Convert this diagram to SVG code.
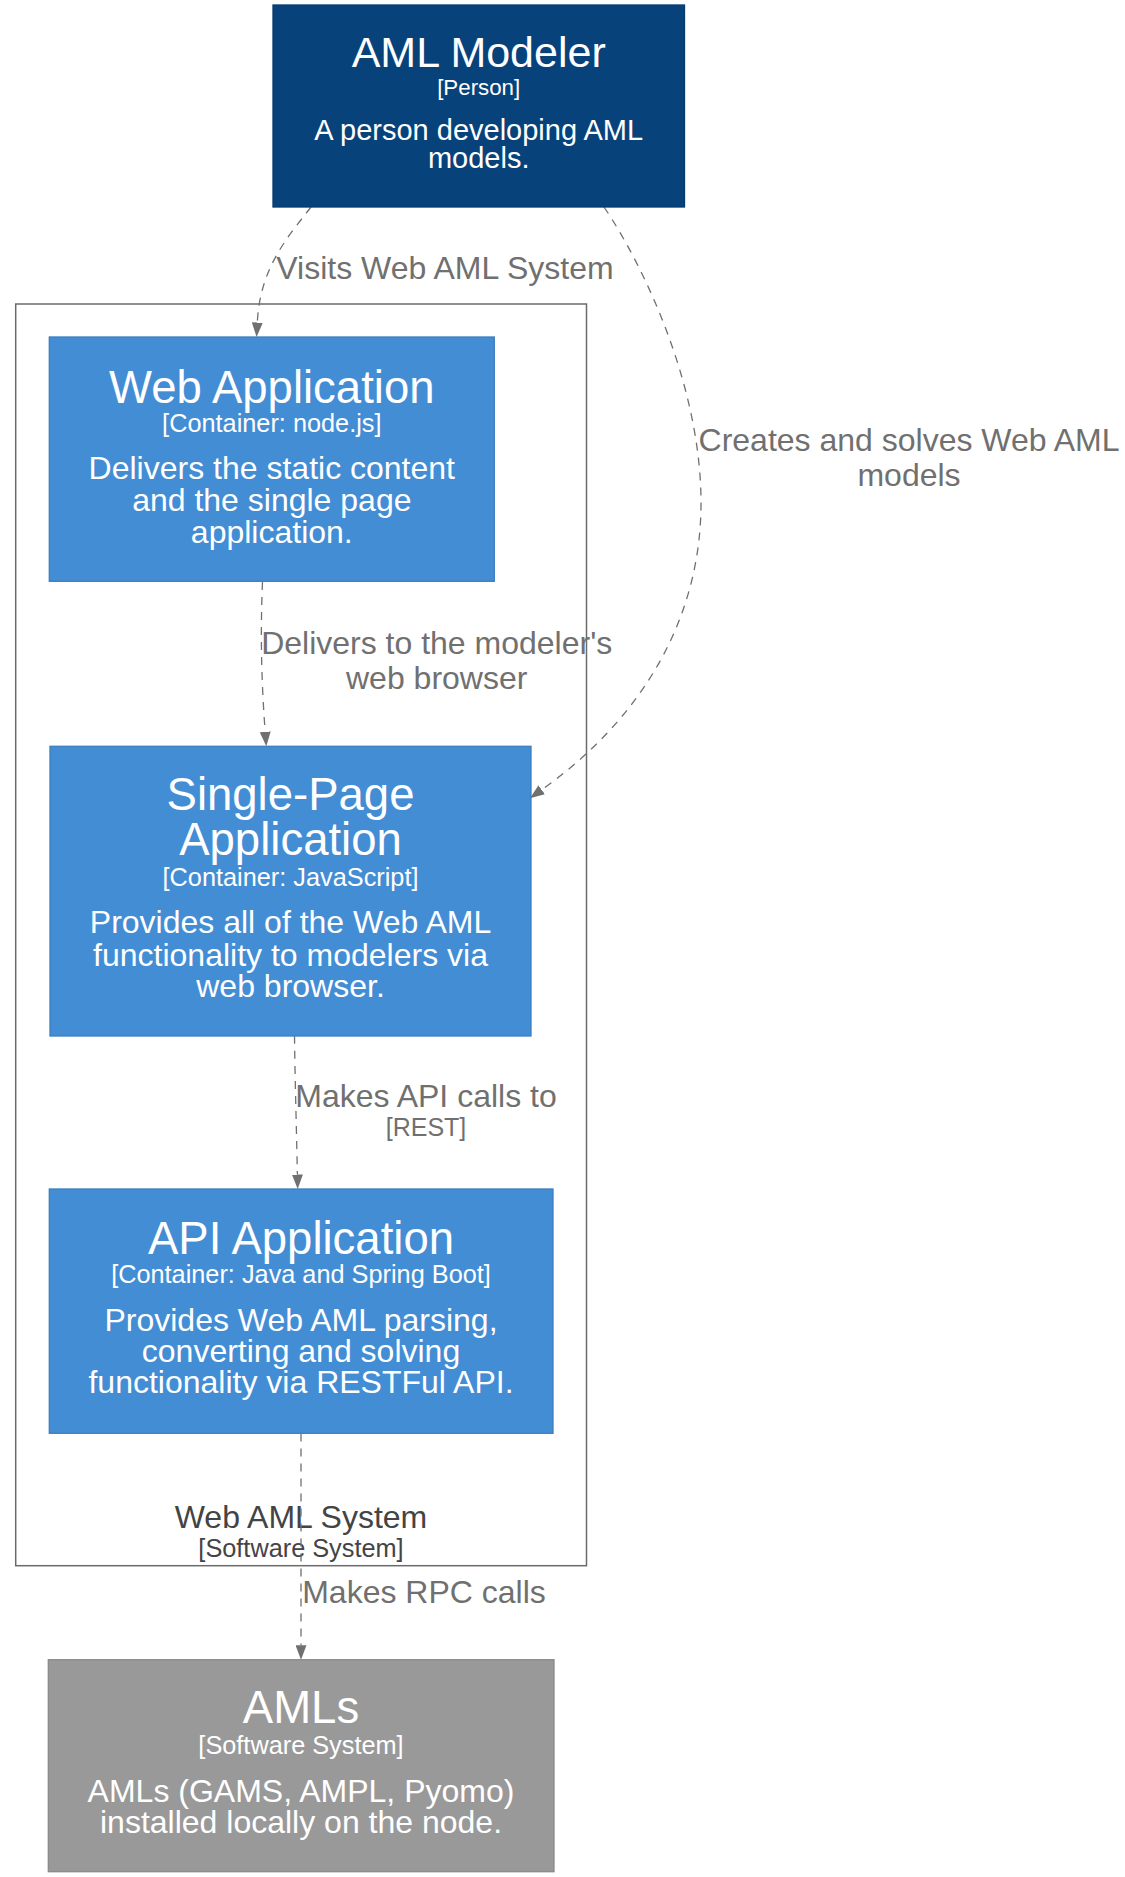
<svg xmlns="http://www.w3.org/2000/svg" width="1125" height="1877" viewBox="0 0 1125 1877">
<defs>
<style>
text{font-family:"Liberation Sans",Arial,Helvetica,sans-serif;text-anchor:middle}
.w{fill:#ffffff}
.edge{fill:none;stroke:#707070;stroke-width:1.3;stroke-dasharray:8,7;marker-end:url(#arr)}
.lbl{fill:#707070;font-size:32px}
.lbls{fill:#707070;font-size:25px}
.person{fill:#08427b;stroke:#073b6f;stroke-width:1.3}
.cont{fill:#438dd5;stroke:#3c7ebf;stroke-width:1.3}
.ext{fill:#999999;stroke:#8a8a8a;stroke-width:1.3}
.n{font-size:45.5px}.m{font-size:25.3px}.d{font-size:32px}
</style>
<marker id="arr" markerUnits="userSpaceOnUse" markerWidth="15" markerHeight="11" refX="0" refY="5.5" orient="auto">
<path d="M0,0 L14.5,5.5 L0,11 z" fill="#707070"/>
</marker>
</defs>
<rect width="1125" height="1877" fill="#ffffff"/>

<g id="boundary">
<rect x="15.7" y="304" width="570.8" height="1261.7" fill="none" stroke="#6b6b6b" stroke-width="1.5"/>
<text x="301" y="1528.3" style="fill:#444444;font-size:32px">Web AML System</text>
<text x="301" y="1556.7" style="fill:#444444;font-size:25.3px">[Software System]</text>
</g>

<g id="connectors">
<path class="edge" d="M311,207 C 287,238 260,268 257.3,322.5"/>
<text class="lbl" x="445" y="279.3">Visits Web AML System</text>
<path class="edge" d="M604,207 C 640,260 700,380 701,500 C 702,620 640,720 541.7,789.8"/>
<text class="lbl" x="909" y="451">Creates and solves Web AML</text>
<text class="lbl" x="909" y="485.5">models</text>
<path class="edge" d="M262.5,582 C 260,640 262,690 265.2,731.8"/>
<text class="lbl" x="436.7" y="654.3">Delivers to the modeler's</text>
<text class="lbl" x="436.7" y="689.3">web browser</text>
<path class="edge" d="M294.5,1036 C 295,1080 296.5,1130 297.4,1174.5"/>
<text class="lbl" x="426" y="1107.3">Makes API calls to</text>
<text class="lbls" x="426" y="1136">[REST]</text>
<path class="edge" d="M301,1433.5 L301,1645.2"/>
<text class="lbl" x="424" y="1603.3">Makes RPC calls</text>
</g>

<g id="aml-modeler">
<rect class="person" x="273" y="5" width="411.5" height="202"/>
<text class="w" x="478.7" y="66.7" style="font-size:43px">AML Modeler</text>
<text class="w" x="478.7" y="95" style="font-size:22.3px">[Person]</text>
<text class="w" x="478.7" y="140" style="font-size:29px">A person developing AML</text>
<text class="w" x="478.7" y="168.3" style="font-size:29px">models.</text>
</g>

<g id="web-application">
<rect class="cont" x="49.3" y="337" width="445" height="244.3"/>
<text class="w n" x="271.8" y="402.7">Web Application</text>
<text class="w m" x="271.8" y="431.7">[Container: node.js]</text>
<text class="w d" x="271.8" y="479">Delivers the static content</text>
<text class="w d" x="271.8" y="510.7">and the single page</text>
<text class="w d" x="271.8" y="543">application.</text>
</g>

<g id="single-page-application">
<rect class="cont" x="50" y="746.3" width="481" height="289.7"/>
<text class="w n" x="290.5" y="810">Single-Page</text>
<text class="w n" x="290.5" y="855">Application</text>
<text class="w m" x="290.5" y="885.7">[Container: JavaScript]</text>
<text class="w d" x="290.5" y="933.3">Provides all of the Web AML</text>
<text class="w d" x="290.5" y="965.5">functionality to modelers via</text>
<text class="w d" x="290.5" y="997.3">web browser.</text>
</g>

<g id="api-application">
<rect class="cont" x="49.3" y="1189" width="503.7" height="244.3"/>
<text class="w n" x="301" y="1254.3">API Application</text>
<text class="w m" x="301" y="1283.3">[Container: Java and Spring Boot]</text>
<text class="w d" x="301" y="1330.7">Provides Web AML parsing,</text>
<text class="w d" x="301" y="1362">converting and solving</text>
<text class="w d" x="301" y="1393.3">functionality via RESTFul API.</text>
</g>

<g id="amls">
<rect class="ext" x="48.3" y="1659.7" width="505.7" height="212"/>
<text class="w n" x="301" y="1723.3">AMLs</text>
<text class="w m" x="301" y="1754.3">[Software System]</text>
<text class="w d" x="301" y="1801.7">AMLs (GAMS, AMPL, Pyomo)</text>
<text class="w d" x="301" y="1833.3">installed locally on the node.</text>
</g>
</svg>
